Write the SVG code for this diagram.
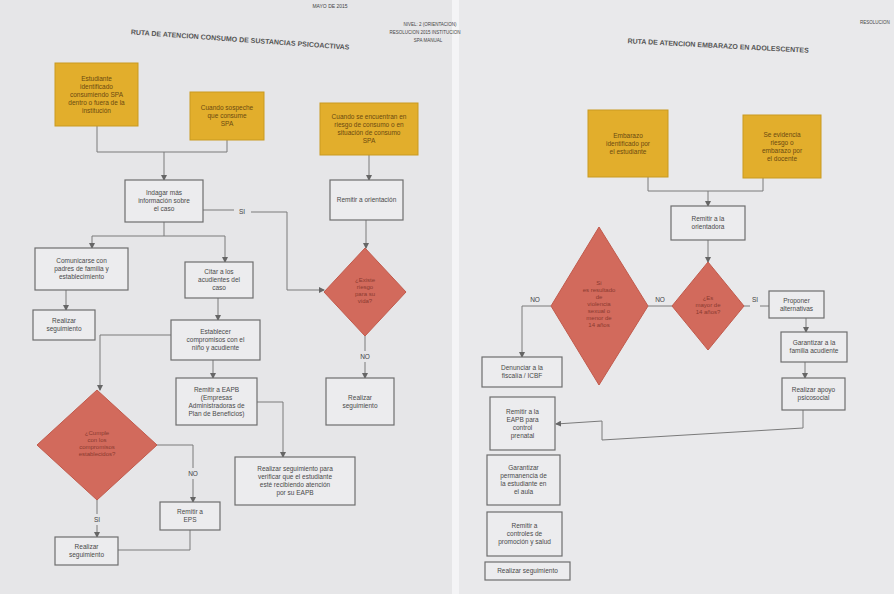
<svg xmlns="http://www.w3.org/2000/svg" width="894" height="594" viewBox="0 0 894 594">
<defs>
<style>
.t{font-family:"Liberation Sans",Arial,sans-serif;font-size:6.5px;fill:#4a4a4a;text-anchor:middle}
.ty{font-family:"Liberation Sans",Arial,sans-serif;font-size:6.5px;fill:#6b4a10;text-anchor:middle}
.td{font-family:"Liberation Sans",Arial,sans-serif;font-size:6px;fill:#8a3a30;text-anchor:middle}
.ttl{font-family:"Liberation Sans",Arial,sans-serif;font-size:7px;font-weight:bold;fill:#555;text-anchor:middle}
.lb{font-family:"Liberation Sans",Arial,sans-serif;font-size:6.5px;fill:#444;text-anchor:middle}
.box{fill:#ececee;stroke:#6e6e6e;stroke-width:1.2}
.yel{fill:#e2ae2c;stroke:#c99a20;stroke-width:1}
.dia{fill:#d26a5c;stroke:#c15a4c;stroke-width:1}
.ln{fill:none;stroke:#7a7a7a;stroke-width:1}
</style>
<marker id="ar" markerWidth="6" markerHeight="6" refX="5" refY="3" orient="auto" markerUnits="userSpaceOnUse">
<path d="M0,0 L6,3 L0,6 z" fill="#666"/>
</marker>
</defs>
<rect x="0" y="0" width="894" height="594" fill="#d9d9db"/>
<rect x="0" y="0" width="452" height="594" fill="#e6e6e8"/>
<rect x="452" y="0" width="7" height="594" fill="#f4f4f6"/>
<rect x="459" y="0" width="435" height="594" fill="#e9e9eb"/>

<!-- titles -->
<text class="ttl" x="240" y="42" transform="rotate(4 240 42)">RUTA DE ATENCION CONSUMO DE SUSTANCIAS PSICOACTIVAS</text>
<text class="lb" x="330" y="8" style="font-size:5px">MAYO DE 2015</text>
<text class="lb" x="430" y="26" style="font-size:4.5px">NIVEL: 2 (ORIENTACION)</text>
<text class="lb" x="425" y="34" style="font-size:4.5px">RESOLUCION 2015 INSTITUCION</text>
<text class="lb" x="428" y="42" style="font-size:4.5px">SPA MANUAL</text>
<text class="ttl" x="718" y="48" transform="rotate(3 718 48)">RUTA DE ATENCION EMBARAZO EN ADOLESCENTES</text>
<text class="lb" x="875" y="24" style="font-size:4.5px">RESOLUCION</text>

<!-- connectors -->
<g id="connectors">
<path class="ln" d="M97,126 V152 H227 V140"/>
<path class="ln" d="M164,152 V180" marker-end="url(#ar)"/>
<path class="ln" d="M203,210 H234"/>
<path class="ln" d="M251,212 H287 V290 H324" marker-end="url(#ar)"/>
<text class="lb" x="242" y="214">SI</text>
<path class="ln" d="M369,155 V180" marker-end="url(#ar)"/>
<path class="ln" d="M366,220 V248" marker-end="url(#ar)"/>
<path class="ln" d="M365,336 V351"/>
<path class="ln" d="M365,362 V378" marker-end="url(#ar)"/>
<text class="lb" x="365" y="359">NO</text>
<path class="ln" d="M164,222 V236"/>
<path class="ln" d="M92,236 H225"/>
<path class="ln" d="M92,236 V248" marker-end="url(#ar)"/>
<path class="ln" d="M225,236 V262" marker-end="url(#ar)"/>
<path class="ln" d="M66,290 V310" marker-end="url(#ar)"/>
<path class="ln" d="M218,298 V320" marker-end="url(#ar)"/>
<path class="ln" d="M171,335 H100 V390" marker-end="url(#ar)"/>
<path class="ln" d="M213,360 V378" marker-end="url(#ar)"/>
<path class="ln" d="M257,402 H283 V457" marker-end="url(#ar)"/>
<path class="ln" d="M157,445 H193 V468"/>
<path class="ln" d="M193,479 V502" marker-end="url(#ar)"/>
<text class="lb" x="193" y="476">NO</text>
<path class="ln" d="M97,500 V514"/>
<path class="ln" d="M97,525 V537" marker-end="url(#ar)"/>
<text class="lb" x="97" y="522">SI</text>
<path class="ln" d="M190,530 V550 H118"/>

<path class="ln" d="M648,177 V191 H763 V178"/>
<path class="ln" d="M708,191 V206" marker-end="url(#ar)"/>
<path class="ln" d="M708,240 V262" marker-end="url(#ar)"/>
<path class="ln" d="M744,306 H750"/>
<path class="ln" d="M760,306 H769"/>
<text class="lb" x="755" y="302">SI</text>
<path class="ln" d="M806,318 V332" marker-end="url(#ar)"/>
<path class="ln" d="M805,362 V378" marker-end="url(#ar)"/>
<path class="ln" d="M803,410 V428 L602,440 V421 L556,424" marker-end="url(#ar)"/>
<path class="ln" d="M648,306 H672"/>
<text class="lb" x="660" y="302">NO</text>
<path class="ln" d="M551,306 H522 V357" marker-end="url(#ar)"/>
<text class="lb" x="535" y="302">NO</text>
</g>

<!-- left page nodes -->
<g id="y1"><rect class="yel" x="55" y="63" width="83" height="63"/>
<text class="ty" x="96.5" y="80.5"><tspan x="96.5">Estudiante</tspan><tspan x="96.5" dy="8">identificado</tspan><tspan x="96.5" dy="8">consumiendo SPA</tspan><tspan x="96.5" dy="8">dentro o fuera de la</tspan><tspan x="96.5" dy="8">institución</tspan></text></g>
<g id="y2"><rect class="yel" x="190" y="92" width="74" height="48"/>
<text class="ty" x="227" y="110"><tspan x="227">Cuando sospeche</tspan><tspan x="227" dy="8">que consume</tspan><tspan x="227" dy="8">SPA</tspan></text></g>
<g id="y3"><rect class="yel" x="320" y="103" width="98" height="52"/>
<text class="ty" x="369" y="119"><tspan x="369">Cuando se encuentran en</tspan><tspan x="369" dy="8">riesgo de consumo o en</tspan><tspan x="369" dy="8">situación de consumo</tspan><tspan x="369" dy="8">SPA</tspan></text></g>
<g id="indagar"><rect class="box" x="125" y="180" width="78" height="42"/>
<text class="t" x="164" y="195"><tspan x="164">Indagar más</tspan><tspan x="164" dy="8">información sobre</tspan><tspan x="164" dy="8">el caso</tspan></text></g>
<g id="orientacion"><rect class="box" x="330" y="180" width="73" height="40"/>
<text class="t" x="366.5" y="202">Remitir a orientación</text></g>
<g id="diaR"><polygon class="dia" points="365,248 406,292 365,336 324,292"/>
<text class="td" x="365" y="282"><tspan x="365">¿Existe</tspan><tspan x="365" dy="7">riesgo</tspan><tspan x="365" dy="7">para su</tspan><tspan x="365" dy="7">vida?</tspan></text></g>
<g id="segR"><rect class="box" x="326" y="378" width="68" height="47"/>
<text class="t" x="360" y="399.5"><tspan x="360">Realizar</tspan><tspan x="360" dy="8">seguimiento</tspan></text></g>
<g id="comunicarse"><rect class="box" x="35" y="248" width="93" height="42"/>
<text class="t" x="81.5" y="263"><tspan x="81.5">Comunicarse con</tspan><tspan x="81.5" dy="8">padres de familia y</tspan><tspan x="81.5" dy="8">establecimiento</tspan></text></g>
<g id="segL1"><rect class="box" x="33" y="310" width="62" height="30"/>
<text class="t" x="64" y="323"><tspan x="64">Realizar</tspan><tspan x="64" dy="8">seguimiento</tspan></text></g>
<g id="citar"><rect class="box" x="185" y="262" width="68" height="36"/>
<text class="t" x="219" y="274"><tspan x="219">Citar a los</tspan><tspan x="219" dy="8">acudientes del</tspan><tspan x="219" dy="8">caso</tspan></text></g>
<g id="establecer"><rect class="box" x="171" y="320" width="89" height="40"/>
<text class="t" x="215.5" y="334"><tspan x="215.5">Establecer</tspan><tspan x="215.5" dy="8">compromisos con el</tspan><tspan x="215.5" dy="8">niño y acudiente</tspan></text></g>
<g id="eapb"><rect class="box" x="176" y="378" width="81" height="47"/>
<text class="t" x="216.5" y="391.5"><tspan x="216.5">Remitir a EAPB</tspan><tspan x="216.5" dy="8">(Empresas</tspan><tspan x="216.5" dy="8">Administradoras de</tspan><tspan x="216.5" dy="8">Plan de Beneficios)</tspan></text></g>
<g id="verificar"><rect class="box" x="235" y="457" width="120" height="48"/>
<text class="t" x="295" y="471"><tspan x="295">Realizar seguimiento para</tspan><tspan x="295" dy="8">verificar que el estudiante</tspan><tspan x="295" dy="8">esté recibiendo atención</tspan><tspan x="295" dy="8">por su EAPB</tspan></text></g>
<g id="diaL"><polygon class="dia" points="97,390 157,445 97,500 37,445"/>
<text class="td" x="97" y="435"><tspan x="97">¿Cumple</tspan><tspan x="97" dy="7">con los</tspan><tspan x="97" dy="7">compromisos</tspan><tspan x="97" dy="7">establecidos?</tspan></text></g>
<g id="eps"><rect class="box" x="160" y="502" width="60" height="28"/>
<text class="t" x="190" y="514"><tspan x="190">Remitir a</tspan><tspan x="190" dy="8">EPS</tspan></text></g>
<g id="segL2"><rect class="box" x="55" y="537" width="63" height="28"/>
<text class="t" x="86.5" y="549"><tspan x="86.5">Realizar</tspan><tspan x="86.5" dy="8">seguimiento</tspan></text></g>

<!-- right page nodes -->
<g id="ya"><rect class="yel" x="588" y="110" width="80" height="67"/>
<text class="ty" x="628" y="137.5"><tspan x="628">Embarazo</tspan><tspan x="628" dy="8">identificado por</tspan><tspan x="628" dy="8">el estudiante</tspan></text></g>
<g id="yb"><rect class="yel" x="743" y="115" width="78" height="63"/>
<text class="ty" x="782" y="136.5"><tspan x="782">Se evidencia</tspan><tspan x="782" dy="8">riesgo o</tspan><tspan x="782" dy="8">embarazo por</tspan><tspan x="782" dy="8">el docente</tspan></text></g>
<g id="remitirOri"><rect class="box" x="671" y="206" width="74" height="34"/>
<text class="t" x="708" y="221"><tspan x="708">Remitir a la</tspan><tspan x="708" dy="8">orientadora</tspan></text></g>
<g id="diaS"><polygon class="dia" points="708,262 744,306 708,350 672,306"/>
<text class="td" x="708" y="300"><tspan x="708">¿Es</tspan><tspan x="708" dy="7">mayor de</tspan><tspan x="708" dy="7">14 años?</tspan></text></g>
<g id="proponer"><rect class="box" x="769" y="291" width="55" height="27"/>
<text class="t" x="796.5" y="302.5"><tspan x="796.5">Proponer</tspan><tspan x="796.5" dy="8">alternativas</tspan></text></g>
<g id="garantizarFam"><rect class="box" x="781" y="332" width="66" height="30"/>
<text class="t" x="814" y="345"><tspan x="814">Garantizar a la</tspan><tspan x="814" dy="8">familia acudiente</tspan></text></g>
<g id="apoyo"><rect class="box" x="782" y="378" width="63" height="32"/>
<text class="t" x="813.5" y="392"><tspan x="813.5">Realizar apoyo</tspan><tspan x="813.5" dy="8">psicosocial</tspan></text></g>
<g id="diaB"><polygon class="dia" points="599,227 648,306 599,385 551,306"/>
<text class="td" x="599" y="285"><tspan x="599">Si</tspan><tspan x="599" dy="7">es resultado</tspan><tspan x="599" dy="7">de</tspan><tspan x="599" dy="7">violencia</tspan><tspan x="599" dy="7">sexual o</tspan><tspan x="599" dy="7">menor de</tspan><tspan x="599" dy="7">14 años</tspan></text></g>
<g id="denunciar"><rect class="box" x="482" y="357" width="80" height="30"/>
<text class="t" x="522" y="370"><tspan x="522">Denunciar a la</tspan><tspan x="522" dy="8">fiscalía / ICBF</tspan></text></g>
<g id="remitirEAPB"><rect class="box" x="490" y="397" width="65" height="53"/>
<text class="t" x="522.5" y="413.5"><tspan x="522.5">Remitir a la</tspan><tspan x="522.5" dy="8">EAPB para</tspan><tspan x="522.5" dy="8">control</tspan><tspan x="522.5" dy="8">prenatal</tspan></text></g>
<g id="permanencia"><rect class="box" x="487" y="455" width="73" height="50"/>
<text class="t" x="523.5" y="470"><tspan x="523.5">Garantizar</tspan><tspan x="523.5" dy="8">permanencia de</tspan><tspan x="523.5" dy="8">la estudiante en</tspan><tspan x="523.5" dy="8">el aula</tspan></text></g>
<g id="controles"><rect class="box" x="487" y="512" width="75" height="44"/>
<text class="t" x="524.5" y="528"><tspan x="524.5">Remitir a</tspan><tspan x="524.5" dy="8">controles de</tspan><tspan x="524.5" dy="8">promoción y salud</tspan></text></g>
<g id="segFinal"><rect class="box" x="485" y="562" width="85" height="18"/>
<text class="t" x="527.5" y="573">Realizar seguimiento</text></g>
</svg>
